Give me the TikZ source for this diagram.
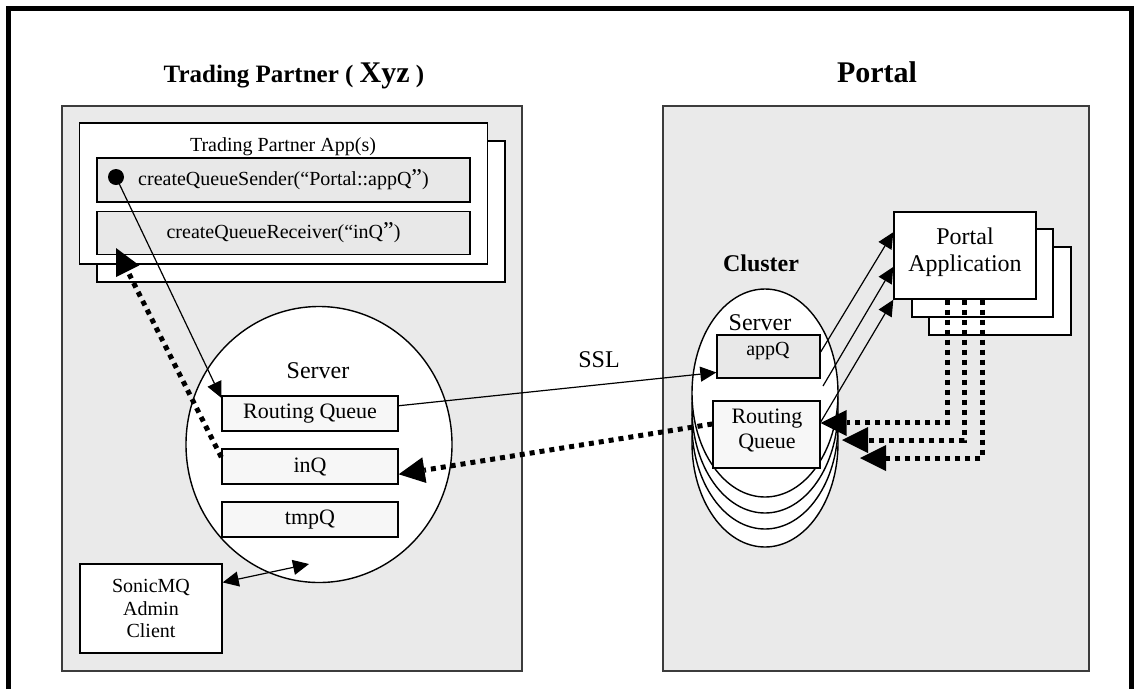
\documentclass[tikz,border=0pt]{standalone}
\usepackage{fontspec}
\setmainfont{Liberation Serif}
\usetikzlibrary{arrows.meta,shapes.geometric,calc}

\definecolor{panelgray}{HTML}{EAEAEA}
\definecolor{callgray}{HTML}{E8E8E8}
\definecolor{qgray}{HTML}{F7F7F7}
\definecolor{edgegray}{HTML}{3C3C3C}

\tikzset{
  panel/.style={draw=edgegray, fill=panelgray, line width=1.2pt, inner sep=0pt},
  whitebox/.style={draw, fill=white, line width=1.4pt, inner sep=0pt},
  callbox/.style={draw, fill=callgray, line width=1.4pt, inner sep=0pt, font=\fontsize{20}{24}\selectfont},
  qbox/.style={draw, fill=qgray, line width=1.4pt, inner sep=0pt, font=\fontsize{22}{24}\selectfont},
  srv/.style={ellipse, draw, fill=white, line width=1.4pt, inner sep=0pt},
  msg/.style={line width=1.2pt, -{Triangle[length=16pt,width=15pt]}},
  biarrow/.style={line width=1.2pt, {Triangle[length=16pt,width=15pt]}-{Triangle[length=16pt,width=15pt]}},
  dotmsg/.style={line width=5pt, dash pattern=on 5pt off 5pt, -{Triangle[length=26pt,width=26pt,line width=0pt]}},
}

\begin{document}
\begin{tikzpicture}[x=1pt, y=-1pt]
  \useasboundingbox (0,0) rectangle (1135,689);
  % frame
  \draw[line width=5pt] (8.5,689) -- (8.5,8.5) -- (1131.5,8.5) -- (1131.5,689);

  % titles
  \node[anchor=base, font=\fontsize{25}{30}\selectfont\bfseries] (tptitle) at (294,82) {Trading Partner ( {\fontsize{30}{30}\selectfont Xyz} )};
  \node[anchor=base, font=\fontsize{30}{30}\selectfont\bfseries] (portaltitle) at (877,82) {Portal};

  % trading partner
  \node[panel, minimum width=460pt, minimum height=565pt] (tp) at (292,388.5) {};
  \node[whitebox, minimum width=408pt, minimum height=141pt] (tpappback) at (301,211.5) {};
  \node[whitebox, minimum width=408pt, minimum height=141pt] (tpapp) at (283.5,193.5) {};
  \node[anchor=base, font=\fontsize{20}{24}\selectfont] (tpapplabel) at (283,151) {Trading Partner App(s)};
  \node[callbox, minimum width=373pt, minimum height=44pt] (sender) at (283.5,180) {createQueueSender(“Portal::appQ{\fontsize{24}{24}\selectfont ”})};
  \node[callbox, minimum width=373pt, minimum height=43pt] (receiver) at (283.5,233) {createQueueReceiver(“inQ{\fontsize{24}{24}\selectfont ”})};
  \node[circle, fill, inner sep=0pt, minimum size=16pt] (dot) at (116,177) {};
  \coordinate (recvin) at (116,248);

  \node[srv, minimum width=266pt, minimum height=276pt] (server) at (319,444.5) {};
  \node[anchor=base, font=\fontsize{24}{28}\selectfont] (serverlabel) at (318,378) {Server};
  \node[qbox, minimum width=176pt, minimum height=35pt] (rq) at (310,413.5) {Routing Queue};
  \node[qbox, minimum width=176pt, minimum height=35pt] (inq) at (310,466.5) {inQ};
  \node[qbox, minimum width=176pt, minimum height=35pt] (tmpq) at (310,519.5) {tmpQ};
  \node[whitebox, minimum width=142pt, minimum height=89pt, align=center, font=\fontsize{20}{22.5}\selectfont] (admin) at (151,608.5) {SonicMQ\\Admin\\Client};
  \coordinate (adminend) at (309,564);

  % portal
  \node[panel, minimum width=426pt, minimum height=565pt] (portal) at (876,388.5) {};
  \node[anchor=base, font=\fontsize{24}{28}\selectfont\bfseries] (clusterlabel) at (761,271) {Cluster};
  \node[srv, minimum width=146pt, minimum height=208pt] (srv4) at (765,443) {};
  \node[srv, minimum width=146pt, minimum height=208pt] (srv3) at (765,425) {};
  \node[srv, minimum width=146pt, minimum height=208pt] (srv2) at (765,409) {};
  \node[srv, minimum width=146pt, minimum height=208pt] (srv1) at (765,393) {};
  \node[anchor=base, font=\fontsize{24}{28}\selectfont] (srv1label) at (760,330) {Server};
  \node[callbox, minimum width=103pt, minimum height=43pt] (appq) at (768.5,356.5) {};
  \node[anchor=north, inner sep=0pt, font=\fontsize{20}{24}\selectfont] (appqlabel) at (768,342) {appQ};
  \node[qbox, minimum width=107pt, minimum height=67pt] (crq) at (766.5,434.5) {};
  \node[align=center, inner sep=0pt, font=\fontsize{22}{25}\selectfont] (crqlabel) at (767,430) {Routing\\Queue};

  \node[whitebox, minimum width=142pt, minimum height=88pt] (papp3) at (1000,291) {};
  \node[whitebox, minimum width=141pt, minimum height=88pt] (papp2) at (982.5,273) {};
  \node[whitebox, minimum width=142pt, minimum height=87pt] (papp) at (965,255.5) {};
  \node[align=center, inner sep=0pt, font=\fontsize{24}{27}\selectfont] (papplabel) at (965,252) {Portal\\Application};
  \coordinate (applink) at (823,386);
  \coordinate (crqin2) at (842,440);
  \coordinate (crqin3) at (860,458);

  % connectors
  \draw[msg] (dot.center) -- (rq.170);
  \draw[dotmsg] (inq.174) -- (recvin);
  \draw[msg] (rq.5) -- (appq.197);
  \node[anchor=base, font=\fontsize{24}{28}\selectfont] (ssl) at (599,367) {SSL};
  \draw[dotmsg] (crq.169) -- (inq.-5);
  \draw[biarrow] (admin.20) -- (adminend);

  \draw[msg] (appq.5) -- (papp.162);
  \draw[msg] (applink) -- (papp.189);
  \draw[msg] (crq.13) -- (papp.south west);

  \draw[dotmsg] ($(papp.south)+(-18,0)$) |- (crq.12);
  \draw[dotmsg] ($(papp.south)+(-1,0)$) |- (crqin2);
  \draw[dotmsg] ($(papp.south)+(17,0)$) |- (crqin3);
\end{tikzpicture}
\end{document}
